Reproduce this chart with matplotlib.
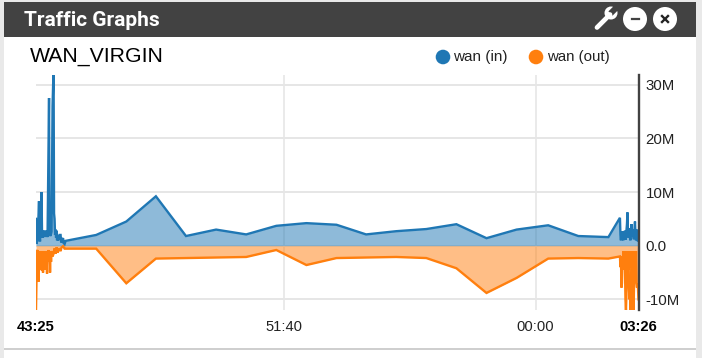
import matplotlib
matplotlib.use("Agg")
import matplotlib.pyplot as plt
from matplotlib.patches import Rectangle, Circle, Polygon

# seconds since 43:25, the flat middle stretch is shared by both series
mid_times = [120, 180, 239, 299, 359, 419, 479, 539, 599, 658, 718, 778, 838, 898, 958, 1021, 1081, 1141]
mid_in = [2.0, 4.5, 9.2, 1.8, 3.0, 2.1, 3.7, 4.2, 3.9, 2.1, 2.7, 3.1, 4.0, 1.4, 3.0, 3.8, 1.8, 1.6]
mid_out = [-0.55, -7, -2.4, -2.3, -2.2, -2.1, -0.8, -3.6, -2.3, -2.2, -2.1, -2.3, -4.2, -8.8, -6, -2.4, -2.3, -2.4]

start_times_in = [0, 1, 2, 3, 4, 6, 7, 8, 9, 11, 12, 13, 14, 15, 16, 17, 18, 19, 20, 21, 22, 23, 26, 27, 28, 29, 31, 33, 35,
                  36, 37, 38, 39, 40, 41, 42, 43, 44, 46, 47, 49, 50, 51, 52, 54, 55, 57, 59]
start_in = [5, 0.3, 1.5, 0.8, 3, 8.3, 2, 0.8, 3, 10, 2.5, 1.5, 2.8, 1.8, 2.6, 1.6, 2.8, 1.8, 2.6, 1.8, 2.8, 1.6, 27.5, 1.8, 2.6, 1.8, 2.6, 26, 33,
            6, 5, 2, 3, 1.5, 2.8, 1, 2, 1, 1.4, 2, 2, 0.8, 0.6, 1.2, 1.4, 0.5, 0.3, 0.9]
start_times_out = [0, 1, 2, 3, 4, 5, 6, 7, 8, 9, 10, 11, 12, 13, 14, 15, 16, 17, 18, 19, 20, 21, 22, 23, 24, 25, 26, 27, 28, 29, 30, 31,
                   33, 35, 37, 39, 41, 43, 46, 49, 51, 54, 57, 59]
start_out = [-12, -6.5, -1, -0.8, -4, -6.7, -2, -1, -4.5, -1.5, -3.5, -1, -4.7, -2, -5, -1, -3, -1.2, -4.5, -1, -3, -1.5, -5.2, -1, -2.5, -0.8, -3, -1, -5, -1, -3, -1,
             -2, -1.5, -0.5, -1.5, -0.3, -1.3, -0.5, -1, -0.3, -0.1, -0.55, -0.55]

end_times = [1164, 1165, 1166, 1167, 1168, 1169, 1170, 1171, 1172, 1173, 1174, 1175, 1176, 1177, 1178, 1179, 1180, 1181, 1182,
             1183, 1184, 1185, 1186, 1187, 1188, 1189, 1190, 1191, 1192, 1193, 1194, 1195, 1196, 1197, 1198, 1199, 1200, 1201]
end_in = [5.2, 2, 1, 2.5, 1.2, 2.7, 1.2, 1, 2.5, 1.2, 2.8, 1.1, 2.5, 2.8, 4, 6.2, 2.5, 1.5, 3,
          3.2, 1.5, 1, 3, 4, 1.8, 2.5, 3, 1.5, 1.2, 3, 4.5, 2, 1, 2.5, 3, 1.5, 0.8, 2.7]
end_out = [-2, -4, -2, -7.8, -7, -2, -4, -1, -4.5, -1, -4, -10, -12, -9, -4, -1, -4.5, -1, -8,
           -10, -9, -12, -8, -1, -4, -1, -8, -12, -8, -4, -1, -4.5, -1, -7, -7.8, -7, -8, -10]

y_ticks = [30, 20, 10, 0, -10]
y_labels = ["30M", "20M", "10M", "0.0", "-10M"]
x_ticks = [495, 996]
x_labels = ["51:40", "00:00"]

times_in = start_times_in + mid_times + end_times
wan_in = start_in + mid_in + end_in
times_out = start_times_out + mid_times + end_times
wan_out = start_out + mid_out + end_out

W, H = 702, 358
blue = "#1f77b4"
orange = "#ff7f0e"
dark = "#424242"
sans = ["Liberation Sans", "DejaVu Sans"]

fig = plt.figure(figsize=(W / 100, H / 100), dpi=100, facecolor="#e9e9e9")

# panel chrome, in pixels
bg = fig.add_axes([0, 0, 1, 1])
bg.set_xlim(0, W)
bg.set_ylim(H, 0)
bg.axis("off")
bg.add_patch(Rectangle((4, 2), 692, 356, color="white", lw=0))
bg.add_patch(Rectangle((4, 2), 692, 35, color=dark, lw=0))
bg.add_patch(Rectangle((4, 348), 692, 2, color="#cfcfcf", lw=0))
bg.text(24, 21, "Traffic Graphs", color="white", fontsize=15, fontweight="bold",
        family="Roboto", va="center")
bg.text(30, 56, "WAN_VIRGIN", color="black", fontsize=15.3, family=sans, va="center")

# wrench
bg.plot([597, 610], [27.5, 14.5], color="white", lw=3.4, solid_capstyle="round")
bg.add_patch(Circle((611, 13), 6.5, color="white", lw=0))
bg.add_patch(Polygon([(612.6, 15.6), (608.4, 11.4), (615.4, 4.4), (619.6, 8.6)], color=dark, lw=0))
bg.add_patch(Circle((597.5, 27.5), 0.9, color=dark, lw=0))
# buttons
for cx in (635, 665):
    bg.add_patch(Circle((cx, 19), 12, color="white", lw=0))
bg.plot([631.5, 638.5], [19, 19], color=dark, lw=1.6)
bg.plot([662, 668], [16, 22], color="#222222", lw=1.7)
bg.plot([662, 668], [22, 16], color="#222222", lw=1.7)

# legend
bg.add_patch(Circle((443, 57), 7.3, color=blue, lw=0))
bg.text(453, 57, "wan (in)", fontsize=11, family=sans, va="center", color="#222222")
bg.add_patch(Circle((536, 57), 7.3, color=orange, lw=0))
bg.text(547, 57, "wan (out)", fontsize=10.8, family=sans, va="center", color="#222222")

# plot area
left, right, top, bottom = 36, 638.5, 75, 310
ax = fig.add_axes([left / W, 1 - bottom / H, (right - left) / W, (bottom - top) / H])
ax.patch.set_alpha(0)
ax.set_xlim(0, 1201)
ax.set_ylim((245.7 - bottom) / 5.37, (245.7 - top) / 5.37)

ax.fill_between(times_in, wan_in, 0, color=blue, alpha=0.5, lw=0)
ax.fill_between(times_out, wan_out, 0, color=orange, alpha=0.5, lw=0)
ax.plot(times_in, wan_in, color=blue, lw=1.7, solid_joinstyle="miter")
ax.plot(times_out, wan_out, color=orange, lw=1.7, solid_joinstyle="miter")

ax.set_yticks(y_ticks)
ax.set_yticklabels(y_labels, family=sans, fontsize=10.8, color="#222222")
ax.yaxis.tick_right()
ax.set_xticks([0] + x_ticks + [1201])
labels = ax.set_xticklabels(["43:25"] + x_labels + ["03:26"], family=sans, fontsize=10.6, color="#222222")
labels[0].set_fontweight("bold")
labels[-1].set_fontweight("bold")
labels[0].set_color("black")
labels[-1].set_color("black")
ax.tick_params(axis="both", length=0, pad=5)
ax.tick_params(axis="x", pad=7)
ax.grid(True, axis="y", color="#e6e6e6", lw=1.4)
for t in x_ticks:
    ax.axvline(t, color="#e6e6e6", lw=1.2, zorder=0.5)
ax.set_axisbelow(True)
for side in ("top", "left", "bottom"):
    ax.spines[side].set_visible(False)
ax.spines["right"].set_color(dark)
ax.spines["right"].set_linewidth(1.7)

fig.savefig("out.png", dpi=100, facecolor=fig.get_facecolor())
